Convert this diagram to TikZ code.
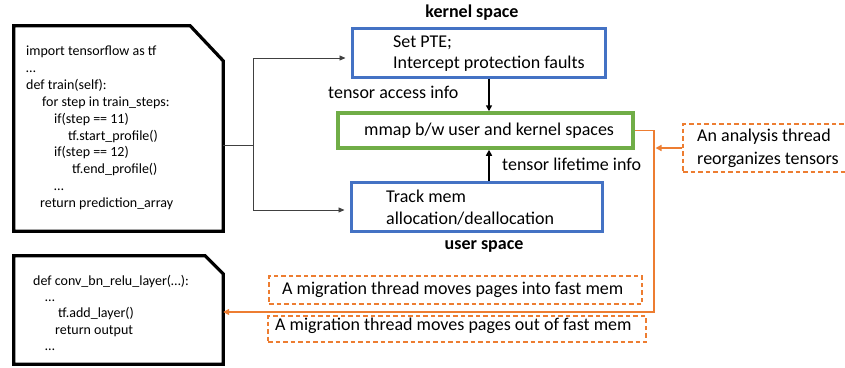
\documentclass[tikz,border=0pt]{standalone}
\usepackage{fontspec}
\setmainfont{Carlito}
\usetikzlibrary{arrows.meta}
\definecolor{bluec}{HTML}{4472C4}
\definecolor{greenc}{HTML}{70AD47}
\definecolor{orangec}{HTML}{ED7D31}
\definecolor{thinc}{HTML}{404040}
\tikzset{
  codetxt/.style={anchor=west,inner sep=0pt,text height=0.7em,text depth=0.2em,font=\fontsize{14}{16}\selectfont},
  lbl/.style={anchor=west,inner sep=0pt,text height=0.7em,text depth=0.2em,font=\fontsize{18}{21}\selectfont},
  boldlbl/.style={inner sep=0pt,text height=0.7em,text depth=0.2em,font=\fontsize{18}{21}\selectfont\bfseries},
  holder/.style={draw=none,inner sep=0pt},
  codeline/.style={line width=3.2pt,line join=miter},
  bluebox/.style={draw=bluec,line width=3pt,inner sep=0pt},
  greenbox/.style={draw=greenc,line width=3.5pt,inner sep=0pt},
  dashbox/.style={draw=orangec,line width=1.2pt,dash pattern=on 4.5pt off 3pt,inner sep=0pt},
  thinarrow/.style={draw=thinc,line width=0.8pt,-{Triangle[length=6pt,width=5pt]}},
  blackarrow/.style={line width=1.5pt,-{Triangle[length=6pt,width=6pt]}},
  orangearrow/.style={draw=orangec,line width=1.5pt,-{Triangle[length=6pt,width=6pt]},color=orangec},
}
\begin{document}
\begin{tikzpicture}[x=1pt,y=-1pt]
\useasboundingbox (0,0) rectangle (845,367);
\clip (0,0) rectangle (845,367);

% code box 1
\node[holder,minimum width=209pt,minimum height=205pt] (code1) at (118.5,128.5) {};
\draw[codeline] (code1.north west) -- ([xshift=-33pt]code1.north east) -- ([yshift=-35pt]code1.north east) -- (code1.south east) -- (code1.south west) -- cycle;
\node[codetxt] (c1a) at (26,53.0) {import tensorflow as tf};
\node[codetxt] (c1b) at (26,69.9) {…};
\node[codetxt] (c1c) at (26,86.8) {def train(self):};
\node[codetxt] (c1d) at (42,103.7) {for step in train\_steps:};
\node[codetxt] (c1e) at (54,120.6) {if(step == 11)};
\node[codetxt] (c1f) at (68,137.5) {tf.start\_profile()};
\node[codetxt] (c1g) at (54,154.4) {if(step == 12)};
\node[codetxt] (c1h) at (72,171.3) {tf.end\_profile()};
\node[codetxt] (c1i) at (54,188.2) {…};
\node[codetxt] (c1j) at (40,205.1) {return prediction\_array};

% code box 2
\node[holder,minimum width=209pt,minimum height=108pt] (code2) at (118.5,310) {};
\draw[codeline] (code2.north west) -- ([xshift=-18pt]code2.north east) -- ([yshift=-18pt]code2.north east) -- (code2.south east) -- (code2.south west) -- cycle;
\node[codetxt] (c2a) at (33,283) {def conv\_bn\_relu\_layer(…):};
\node[codetxt] (c2b) at (45,299.2) {…};
\node[codetxt] (c2c) at (58,315.4) {tf.add\_layer()};
\node[codetxt] (c2d) at (55,331.6) {return output};
\node[codetxt] (c2e) at (45,347.8) {…};

% kernel / user boxes
\node[boldlbl] (kspace) at (472,15) {kernel space};
\node[bluebox,minimum width=253pt,minimum height=49pt] (pte) at (478.5,52.5) {};
\node[lbl] (pte1) at (393,45) {Set PTE;};
\node[lbl] (pte2) at (393,66) {Intercept protection faults};

\node[greenbox,minimum width=295pt,minimum height=35pt] (mmap) at (485.5,130.5) {};
\node[lbl] (mmaptxt) at (364,133) {mmap b/w user and kernel spaces};

\node[bluebox,minimum width=251pt,minimum height=49pt] (track) at (476.5,206.5) {};
\node[lbl] (track1) at (386,200) {Track mem};
\node[lbl] (track2) at (386,222) {allocation/deallocation};
\node[boldlbl] (uspace) at (484,247) {user space};

\node[lbl] (accinfo) at (328,96) {tensor access info};
\node[lbl] (lifeinfo) at (502,168) {tensor lifetime info};

\coordinate (ax) at (489,0);
\draw[blackarrow] (pte.south -| ax) -- (mmap.north -| ax);
\draw[blackarrow] (track.north -| ax) -- (mmap.south -| ax);

% thin connectors from code box 1
\coordinate (split) at (253,145);
\draw[draw=thinc,line width=0.8pt] (code1.east |- split) -- (split);
\draw[thinarrow,shorten >=5pt] (split) |- ([yshift=-5.5pt]pte.west);
\draw[thinarrow,shorten >=5pt] (split) |- ([yshift=-3.5pt]track.west);

% dashed orange boxes
\node[dashbox,minimum width=373pt,minimum height=28pt] (mig1) at (455.5,290) {};
\node[lbl] (mig1txt) at (282,292) {A migration thread moves pages into fast mem};
\node[dashbox,minimum width=378pt,minimum height=26pt] (mig2) at (457,329) {};
\node[lbl] (mig2txt) at (275,328) {A migration thread moves pages out of fast mem};
\node[dashbox,minimum width=180pt,minimum height=48pt] (analysis) at (773,148) {};
\node[lbl] (an1) at (697,139) {An analysis thread};
\node[lbl] (an2) at (697,162) {reorganizes tensors};

% orange connectors
\coordinate (turn) at (654,312);
\draw[orangearrow] (mmap.east) -| (turn) -- (code2.east |- turn);
\coordinate (hit) at (655.5,0);
\draw[orangearrow] (analysis.west) -- (analysis.west -| hit);
\end{tikzpicture}
\end{document}
